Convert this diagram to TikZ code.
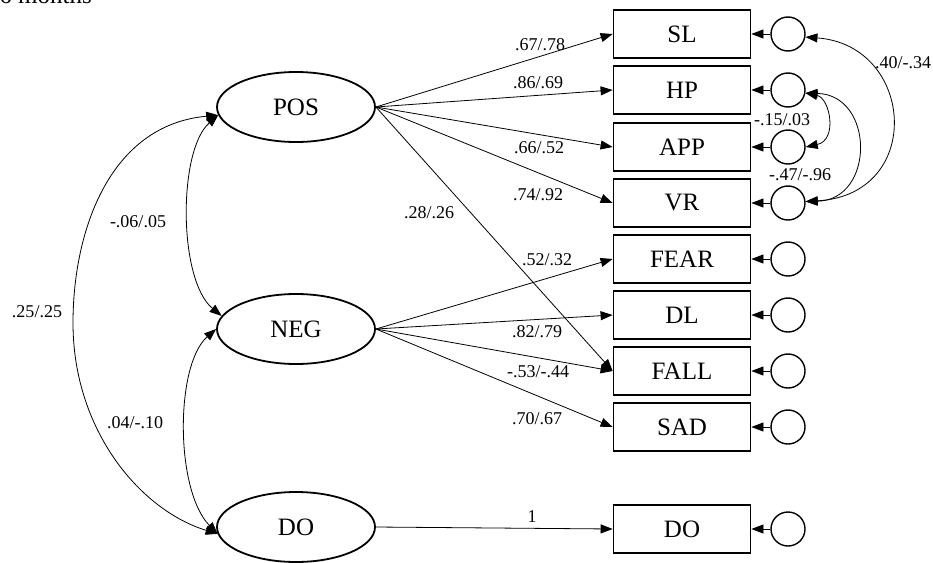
\documentclass[tikz,border=0pt]{standalone}
\usepackage{fontspec}
\setmainfont{Liberation Serif}
\usetikzlibrary{arrows.meta, shapes}

\tikzset{
  latent/.style={ellipse,draw,line width=1.8pt,minimum width=158pt,minimum height=70pt,inner sep=0pt,font=\fontsize{25}{28}\selectfont},
  obs/.style={rectangle,draw,line width=1.8pt,minimum width=137pt,minimum height=48pt,inner sep=0pt,font=\fontsize{25}{28}\selectfont},
  err/.style={circle,draw,line width=1.4pt,minimum size=34pt,inner sep=0pt},
  load/.style={-{Triangle[length=12pt,width=9pt]},line width=0.8pt},
  cov/.style={{Triangle[length=12pt,width=9pt]}-{Triangle[length=12pt,width=9pt]},line width=0.8pt},
  coef/.style={font=\fontsize{18}{20}\selectfont,inner sep=0pt}
}

\begin{document}
\begin{tikzpicture}[x=1pt,y=-1pt]
\useasboundingbox (0,0) rectangle (933,562);
\node[anchor=base east,inner sep=0pt,font=\fontsize{25}{28}\selectfont] (title) at (92,3) {6 months};

% latent factors
\node[latent] (pos) at (296,107) {POS};
\node[latent] (neg) at (296,329) {NEG};
\node[latent] (ldo) at (296,527) {DO};

% indicators
\node[obs] (sl) at (682,34) {SL};
\node[obs] (hp) at (682,90) {HP};
\node[obs] (app) at (682,147) {APP};
\node[obs] (vr) at (682,203) {VR};
\node[obs] (fear) at (682,259) {FEAR};
\node[obs] (dl) at (682,315) {DL};
\node[obs] (fall) at (682,371) {FALL};
\node[obs] (sad) at (682,427) {SAD};
\node[obs] (do) at (682,529) {DO};

% error terms
\node[err] (esl) at (788,34) {};
\node[err] (ehp) at (788,90) {};
\node[err] (eapp) at (788,147) {};
\node[err] (evr) at (788,203) {};
\node[err] (efear) at (788,259) {};
\node[err] (edl) at (788,315) {};
\node[err] (efall) at (788,371) {};
\node[err] (esad) at (788,427) {};
\node[err] (edo) at (788,529) {};

\foreach \i in {sl,hp,app,vr,fear,dl,fall,sad,do}
    \draw[load] (e\i) -- (\i);

% loadings
\draw[load] (pos.east) -- (sl.west) node[coef] (csl) at (540,45) {.67/.78};
\draw[load] (pos.east) -- (hp.west) node[coef] (chp) at (538,83) {.86/.69};
\draw[load] (pos.east) -- (app.west) node[coef] (capp) at (539,148) {.66/.52};
\draw[load] (pos.east) -- (vr.west) node[coef] (cvr) at (538,195) {.74/.92};
\draw[load] (pos.east) -- (fall.west) node[coef] (cpfall) at (429,213) {.28/.26};
\draw[load] (neg.east) -- (fear.west) node[coef] (cfear) at (547,260) {.52/.32};
\draw[load] (neg.east) -- (dl.west) node[coef] (cdl) at (537,332) {.82/.79};
\draw[load] (neg.east) -- (fall.west) node[coef] (cfall) at (538,372) {-.53/-.44};
\draw[load] (neg.east) -- (sad.west) node[coef] (csad) at (537,419) {.70/.67};
\draw[load] (ldo.east) -- (do.west) node[coef] (cdo) at (532,517) {1};

% factor covariances
\draw[cov] (pos.186) .. controls (178,150) and (178,280) .. (neg.170);
\draw[cov] (neg.west) .. controls (175,365) and (175,490) .. (ldo.185);
\draw[cov] (pos.186) .. controls (110,125) and (73,230) .. (73,323)
    .. controls (73,430) and (140,510) .. (ldo.185);
\node[coef] (cpn) at (138,222) {-.06/.05};
\node[coef] (cpd) at (37,312) {.25/.25};
\node[coef] (cnd) at (135,423) {.04/-.10};

% error covariances
\draw[cov] (esl.-10) .. controls (915,45) and (925,195) .. (evr.5);
\draw[cov] (ehp.-10) .. controls (830,98) and (838,140) .. (eapp.east);
\draw[cov] (ehp.-10) .. controls (875,95) and (875,200) .. (evr.5);
\node[coef] (csv) at (903,63) {.40/-.34};
\node[coef] (cha) at (782,120) {-.15/.03};
\node[coef] (chv) at (800,175) {-.47/-.96};
\end{tikzpicture}
\end{document}
